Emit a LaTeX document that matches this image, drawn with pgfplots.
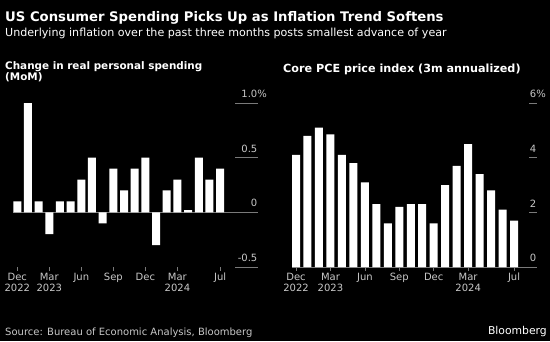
\documentclass[border=0pt]{standalone}
\usepackage{fontspec}
\setmainfont{DejaVu Sans}
\usepackage{pgfplots}
\pgfplotsset{compat=1.18}
\definecolor{ticktext}{HTML}{C8C8C8}
\definecolor{axline}{HTML}{7A7A7A}
\pgfplotstableread{
x spend
0 0.1
1 1.0
2 0.1
3 -0.2
4 0.1
5 0.1
6 0.3
7 0.5
8 -0.1
9 0.4
10 0.2
11 0.4
12 0.5
13 -0.3
14 0.2
15 0.3
16 0.02
17 0.5
18 0.3
19 0.4
}\spendtable
\pgfplotstableread{
x pce
0 4.1
1 4.8
2 5.1
3 4.85
4 4.1
5 3.8
6 3.1
7 2.3
8 1.6
9 2.2
10 2.3
11 2.3
12 1.6
13 3.0
14 3.7
15 4.5
16 3.4
17 2.8
18 2.1
19 1.7
}\pcetable
\pgfplotsset{
  panel/.style={
    scale only axis, width=245pt, height=164pt, anchor=south west,
    axis line style={draw=none}, clip=false,
    xtick={0,3,6,9,12,15,19},
    xticklabels={Dec\\2022,Mar\\2023,Jun,Sep,Dec,Mar\\2024,Jul},
    xtick pos=bottom, tick align=outside, major tick length=3.5pt,
    xtick style={axline, line width=0.6pt},
    xticklabel style={text=ticktext, align=center, font=\fontsize{10}{11}\selectfont, inner sep=0pt, yshift=-2.5pt},
    ytick pos=right, ytick style={draw=none},
    yticklabel style={text=ticktext, font=\fontsize{10}{11}\selectfont, anchor=south east, inner sep=0pt, xshift=-4pt, yshift=5pt},
  }
}
\begin{document}
\begin{tikzpicture}
\fill[black] (0pt,0pt) rectangle (550pt,341pt);
\node[anchor=base west, inner sep=0, text=white, font=\bfseries\fontsize{13.2}{15}\selectfont] at (5pt,319pt) {US Consumer Spending Picks Up as Inflation Trend Softens};
\node[anchor=base west, inner sep=0, text=white, font=\fontsize{11.1}{12}\selectfont] at (5pt,304pt) {Underlying inflation over the past three months posts smallest advance of year};
\node[anchor=base west, inner sep=0, text=white, font=\bfseries\fontsize{10.4}{12.5}\selectfont] at (5pt,272pt) {Change in real personal spending};
\node[anchor=base west, inner sep=0, text=white, font=\bfseries\fontsize{10.4}{12.5}\selectfont] at (5pt,260pt) {(MoM)};
\node[anchor=base west, inner sep=0, text=white, font=\bfseries\fontsize{11.2}{12}\selectfont] at (283pt,269pt) {Core PCE price index (3m annualized)};
\node[anchor=base west, inner sep=0, text=ticktext, font=\fontsize{10}{12}\selectfont] at (5pt,6pt) {Source: Bureau of Economic Analysis, Bloomberg};
\node[anchor=base east, inner sep=0, text=white, font=\fontsize{10.8}{12}\selectfont] at (547pt,7pt) {Bloomberg};

\begin{axis}[panel, at={(13pt,74pt)}, xmin=-0.4, xmax=22.55, ymin=-0.5, ymax=1.0,
  ytick={-0.5,0,0.5,1}, yticklabels={-0.5,0,0.5,1.0\rlap{\%}}]
  \addplot[axline, line width=0.8pt] coordinates {(-0.4,0) (22.55,0)};
  \foreach \v in {-0.5,0,0.5,1} {\edef\tmp{\noexpand\draw[axline, line width=0.8pt] (axis cs:20.42,\v) -- (axis cs:22.55,\v);}\tmp}
  \addplot[ybar, bar width=8pt, bar shift=0pt, fill=white, draw=none] table[x=x, y=spend] {\spendtable};
\end{axis}

\begin{axis}[panel, at={(292pt,74pt)}, xmin=-0.35, xmax=21.0, ymin=0, ymax=6,
  ytick={0,2,4,6}, yticklabels={0,2,4,6\rlap{\%}}]
  \addplot[axline, line width=0.8pt] coordinates {(-0.35,0) (20.84,0)};
  \foreach \v in {0,2,4,6} {\edef\tmp{\noexpand\draw[axline, line width=0.8pt] (axis cs:20.31,\v) -- (axis cs:21.0,\v);}\tmp}
  \addplot[ybar, bar width=8pt, bar shift=0pt, fill=white, draw=none] table[x=x, y=pce] {\pcetable};
\end{axis}
\end{tikzpicture}
\end{document}
